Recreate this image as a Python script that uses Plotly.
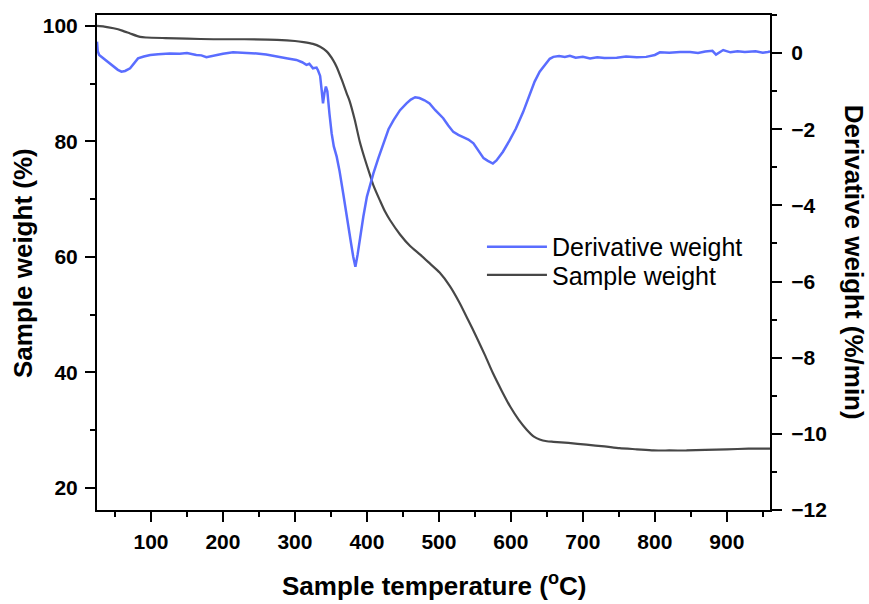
import plotly.graph_objects as go

# Sample weight (%) vs temperature (°C)
temp_weight = [25, 35, 48, 60, 71, 85, 94, 120, 150, 187, 230, 275, 300, 312, 325, 335,
               344, 353, 358, 365, 372, 376, 383, 390, 397, 404, 409, 418, 425, 432, 446,
               460, 474, 488, 501, 515, 529, 541, 552, 564, 575, 587, 599, 611, 622, 632,
               640, 650, 659, 680, 705, 730, 751, 775, 798, 820, 844, 870, 900, 930, 960]
sample_weight = [100, 99.9, 99.6, 99.2, 98.7, 98.1, 98.0, 97.9, 97.8, 97.7, 97.7, 97.6, 97.4,
                 97.2, 96.9, 96.4, 95.6, 94.1, 92.9, 90.7, 88.3, 87.0, 83.8, 80.0, 77.0, 74.3,
                 72.4, 69.8, 67.9, 66.4, 63.9, 61.9, 60.4, 58.8, 57.3, 55.0, 52.0, 49.0, 46.2,
                 43.0, 39.9, 36.9, 34.1, 31.8, 30.1, 28.9, 28.4, 28.1, 28.0, 27.8, 27.5, 27.2,
                 26.9, 26.7, 26.5, 26.5, 26.5, 26.6, 26.7, 26.8, 26.8]

# Derivative weight (%/min) vs temperature (°C)
temp_deriv = [25, 26, 28, 34, 41, 48, 54, 59, 64, 71, 77, 82, 90, 99, 110, 126, 140, 150, 163,
              170, 177, 184, 191, 200, 214, 230, 247, 260, 275, 290, 302, 310, 316, 320, 325,
              330, 332, 335, 337, 339, 341, 343, 345, 346, 348, 351, 354, 358, 362, 367, 371,
              374, 378, 381, 384, 387, 390, 395, 400, 405, 409, 416, 423, 430, 437, 446, 455,
              461, 467, 473, 480, 487, 495, 501, 506, 513, 520, 527, 534, 541, 548, 555, 562,
              568, 575, 580, 589, 598, 607, 617, 626, 633, 640, 648, 654, 659, 667, 675, 682,
              690, 700, 710, 720, 730, 747, 760, 775, 788, 800, 807, 820, 835, 849, 860, 870,
              880, 885, 895, 905, 915, 925, 940, 950, 957, 960]
deriv_weight = [0.30, 0.05, -0.05, -0.14, -0.25, -0.36, -0.44, -0.49, -0.47, -0.40, -0.25, -0.14,
                -0.09, -0.05, -0.03, -0.01, -0.02, 0.0, -0.05, -0.06, -0.11, -0.08, -0.05, -0.02,
                0.02, 0.01, -0.01, -0.04, -0.10, -0.14, -0.18, -0.24, -0.31, -0.28, -0.40, -0.38,
                -0.45, -0.60, -0.95, -1.32, -1.05, -0.88, -1.00, -1.23, -1.60, -2.11, -2.45,
                -2.72, -3.10, -3.68, -4.20, -4.56, -5.00, -5.35, -5.61, -5.30, -4.91, -4.30,
                -3.77, -3.40, -3.16, -2.75, -2.37, -2.00, -1.76, -1.50, -1.32, -1.22, -1.16,
                -1.18, -1.24, -1.32, -1.50, -1.62, -1.71, -1.90, -2.07, -2.15, -2.20, -2.27,
                -2.37, -2.58, -2.76, -2.83, -2.90, -2.82, -2.59, -2.30, -1.98, -1.55, -1.10,
                -0.75, -0.49, -0.30, -0.15, -0.10, -0.08, -0.10, -0.07, -0.12, -0.10, -0.14,
                -0.11, -0.13, -0.12, -0.09, -0.11, -0.10, -0.05, 0.02, 0.01, 0.03, 0.03, 0.0,
                0.04, 0.06, -0.04, 0.08, 0.02, 0.05, 0.03, 0.05, 0.01, 0.03, 0.04]

FONT = "Arial, 'Liberation Sans', sans-serif"
BLUE = "#5a6dff"
GRAY = "#474747"

fig = go.Figure()
fig.add_trace(go.Scatter(x=temp_deriv, y=deriv_weight, mode="lines", name="Derivative weight",
                         line=dict(color=BLUE, width=2.5), yaxis="y2", legend="legend"))
fig.add_trace(go.Scatter(x=temp_weight, y=sample_weight, mode="lines", name="Sample weight",
                         line=dict(color=GRAY, width=2.2, shape="spline", smoothing=0.6),
                         legend="legend2"))

axis_common = dict(showline=True, linecolor="black", linewidth=2, ticks="outside",
                   tickcolor="black", tickwidth=2, ticklen=10, showgrid=False, zeroline=False,
                   tickfont=dict(family=FONT, size=21, color="black", weight="bold"))

legend_style = dict(xanchor="left", yanchor="top", bgcolor="rgba(0,0,0,0)",
                    font=dict(family=FONT, size=25, color="black"), itemwidth=60)

fig.update_layout(
    width=869, height=604,
    margin=dict(l=97, r=99, t=15, b=94),
    paper_bgcolor="white", plot_bgcolor="white",
    xaxis=dict(range=[25, 960], tick0=0, dtick=100, mirror=True,
               minor=dict(dtick=50, ticks="outside", ticklen=5, tickwidth=2, tickcolor="black"),
               ticklabelstandoff=2, **axis_common),
    yaxis=dict(range=[16.19, 101.9], tick0=0, dtick=20,
               minor=dict(dtick=10, ticks="outside", ticklen=5, tickwidth=2, tickcolor="black"),
               ticklabelstandoff=3, **axis_common),
    yaxis2=dict(range=[-12, 1.0], tick0=0, dtick=2, overlaying="y", side="right",
                minor=dict(dtick=1, ticks="outside", ticklen=5, tickwidth=2, tickcolor="black"),
                ticklabelstandoff=5, **axis_common),
    showlegend=True,
    legend=dict(x=0.572, y=0.578, **legend_style),
    legend2=dict(x=0.572, y=0.521, **legend_style),
    annotations=[
        dict(text="Sample temperature (<sup>o</sup>C)", xref="paper", yref="paper",
             x=0.5, y=-0.15, xanchor="center", yanchor="middle", showarrow=False,
             font=dict(family=FONT, size=26, color="black", weight="bold")),
        dict(text="Sample weight (%)", xref="paper", yref="paper", x=-0.1107, y=0.5,
             xanchor="center", yanchor="middle", textangle=-90, showarrow=False,
             font=dict(family=FONT, size=26, color="black", weight="bold")),
        dict(text="Derivative weight (%/min)", xref="paper", yref="paper", x=1.126, y=0.5,
             xanchor="center", yanchor="middle", textangle=90, showarrow=False,
             font=dict(family=FONT, size=26, color="black", weight="bold")),
    ],
)

fig.write_html("out.html")
